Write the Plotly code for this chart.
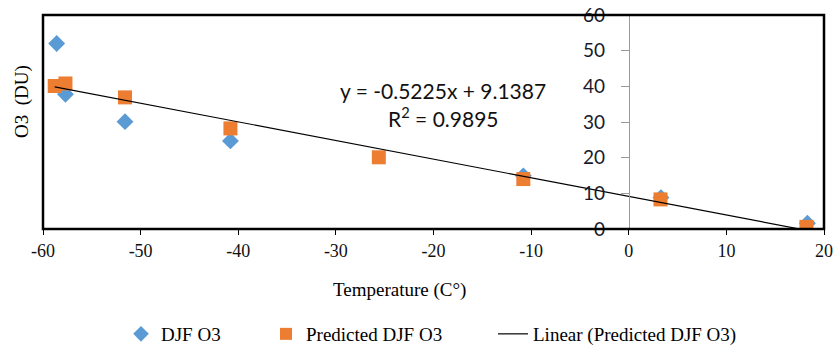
import plotly.graph_objects as go

temp_obs = [-58.6, -57.7, -51.6, -40.8, -10.8, 3.3, 18.3]
o3_obs = [52.0, 37.8, 30.1, 24.7, 14.9, 8.8, 1.6]

temp_pred = [-58.8, -57.7, -51.6, -40.8, -25.6, -10.8, 3.25, 18.2]
o3_pred = [40.1, 40.8, 36.9, 28.2, 20.1, 14.0, 8.3, 0.6]

slope = -0.5225
intercept = 9.1387
r2 = 0.9895

x_ticks = [-60, -50, -40, -30, -20, -10, 0, 10, 20]
x_ticktext = ["-60", "-50", "-40", "-30", "-20", "-10", "0", "10", "20"]
y_ticks = [0, 10, 20, 30, 40, 50, 60]

line_x = [min(temp_pred), max(temp_pred)]
line_y = [slope * v + intercept for v in line_x]

serif = "Liberation Serif"
sans = "Lato"

# plot area in pixels
L, R, T, B = 43, 824, 15, 229
W, H = R - L, B - T


def px(x):
    return (x - L) / W


def py(y):
    return (B - y) / H


fig = go.Figure()
fig.add_trace(go.Scatter(x=temp_obs, y=o3_obs, mode="markers", name="DJF O3", legend="legend",
                         marker=dict(symbol="diamond", size=13, color="#5B9BD5")))
fig.add_trace(go.Scatter(x=temp_pred, y=o3_pred, mode="markers", name="Predicted DJF O3", legend="legend2",
                         marker=dict(symbol="square", size=14, color="#ED7D31")))
fig.add_trace(go.Scatter(x=line_x, y=line_y, mode="lines", name="Linear (Predicted DJF O3)", legend="legend3",
                         line=dict(color="black", width=1.2)))

leg_common = dict(orientation="h", yanchor="middle", xanchor="left", y=py(334),
                  font=dict(family=serif, size=19, color="black"),
                  bgcolor="rgba(0,0,0,0)", borderwidth=0)

ann_common = dict(showarrow=False, xref="paper", yref="paper", xanchor="center", yanchor="middle")

fig.update_layout(
    width=835, height=347,
    margin=dict(l=L, r=835 - R, t=T, b=347 - B, autoexpand=False),
    plot_bgcolor="white", paper_bgcolor="white",
    showlegend=True,
    legend=dict(x=px(121), itemsizing="constant", **leg_common),
    legend2=dict(x=px(266), itemsizing="constant", **leg_common),
    legend3=dict(x=px(493), **leg_common),
    xaxis=dict(range=[-60, 20], tickvals=x_ticks, ticktext=x_ticktext, showgrid=False, zeroline=False,
               showline=False, ticks="outside", ticklen=5, tickcolor="black", automargin=False,
               tickfont=dict(family=serif, size=18, color="#111")),
    yaxis=dict(range=[0, 60], tickvals=y_ticks, showgrid=False, zeroline=False,
               anchor="free", position=0.75, side="left", automargin=False,
               showline=True, linecolor="#9a9a9a", linewidth=1,
               ticks="outside", ticklen=8, tickcolor="#9a9a9a", ticklabelstandoff=12,
               tickfont=dict(family=sans, size=19, color="#1a1a2e")),
    shapes=[dict(type="rect", xref="paper", yref="paper", x0=0, x1=1, y0=0, y1=1,
                 line=dict(color="black", width=2.5))],
    annotations=[
        dict(text=f"y = {slope}x + {intercept}", x=px(443), y=py(90),
             font=dict(family=sans, size=21, color="#111"), **ann_common),
        dict(text=f"R<sup>2</sup> = {r2}", x=px(443), y=py(117),
             font=dict(family=sans, size=21, color="#111"), **ann_common),
        dict(text="O3  (DU)", textangle=-90, x=px(22), y=py(102),
             font=dict(family=serif, size=19, color="black"), **ann_common),
        dict(text="Temperature (C°)", x=px(399), y=py(290),
             font=dict(family=serif, size=19, color="black"), **ann_common),
    ],
)

fig.write_html("out.html", config={"displayModeBar": False},
               post_script="document.body.style.margin='0px';")
